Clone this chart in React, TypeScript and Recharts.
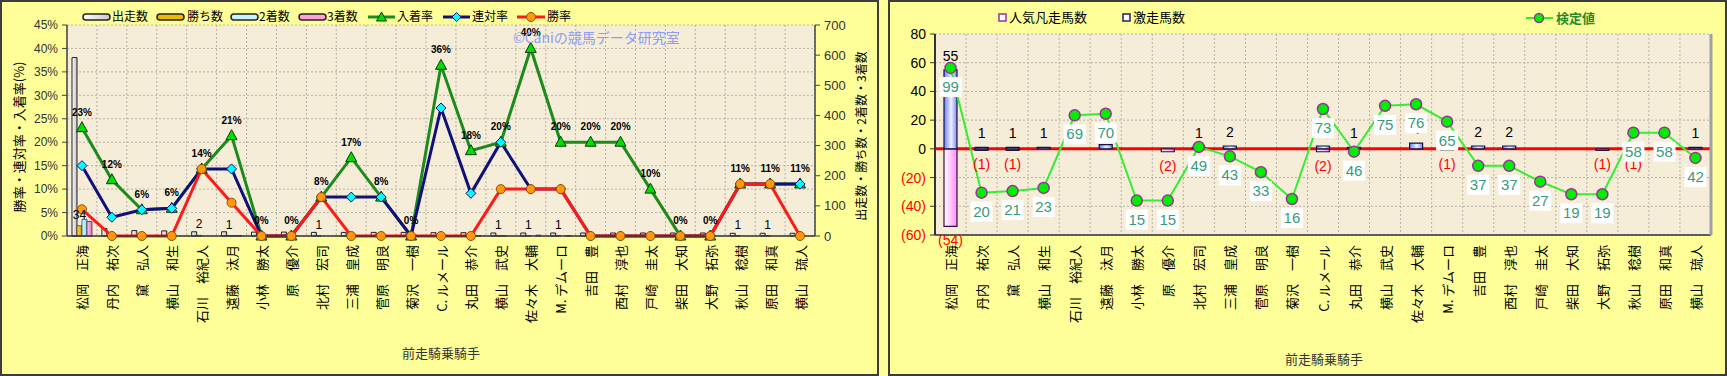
import React from "react";
import {
  ComposedChart, Bar, Line, XAxis, YAxis, CartesianGrid, LabelList, ReferenceLine,
} from "recharts";

const JP = '"Noto Sans CJK JP", "Noto Sans", sans-serif';
const NUM = '"Liberation Sans", Arial, sans-serif';

const jockeys = [
  "松岡　正海", "丹内　祐次", "黛　弘人", "横山　和生", "石川　裕紀人",
  "遠藤　汰月", "小林　勝太", "原　優介", "北村　宏司", "三浦　皇成",
  "菅原　明良", "菊沢　一樹", "C. ルメール", "丸田　恭介", "横山　武史",
  "佐々木　大輔", "M. デムーロ", "吉田　豊", "西村　淳也", "戸崎　圭太",
  "柴田　大知", "大野　拓弥", "秋山　稔樹", "原田　和真", "横山　琉人",
];

// left panel: counts (right axis) and rates in % (left axis)
const starts = [592, 25, 18, 17, 14, 14, 13, 13, 12, 12, 12, 12, 11, 11, 10, 10, 10, 10, 10, 10, 10, 10, 9, 9, 9];
const wins = [34, 0, 0, 0, 2, 1, 0, 0, 1, 0, 0, 0, 0, 0, 1, 1, 1, 0, 0, 0, 0, 0, 1, 1, 0];
const seconds = [55, 1, 1, 1, 0, 1, 0, 0, 0, 1, 1, 0, 3, 1, 1, 0, 0, 0, 0, 0, 0, 0, 0, 0, 1];
const thirds = [48, 2, 0, 0, 0, 1, 0, 0, 0, 1, 0, 0, 1, 1, 0, 3, 1, 2, 2, 1, 0, 0, 0, 0, 0];
const placeRate = [23.1, 12.0, 5.6, 5.9, 14.3, 21.4, 0, 0, 8.3, 16.7, 8.3, 0, 36.4, 18.2, 20, 40, 20, 20, 20, 10, 0, 0, 11.1, 11.1, 11.1];
const quinellaRate = [15.0, 4.0, 5.6, 5.9, 14.3, 14.3, 0, 0, 8.3, 8.3, 8.3, 0, 27.3, 9.1, 20, 10, 10, 0, 0, 0, 0, 0, 11.1, 11.1, 11.1];
const winRate = [5.7, 0, 0, 0, 14.3, 7.1, 0, 0, 8.3, 0, 0, 0, 0, 0, 10, 10, 10, 0, 0, 0, 0, 0, 11.1, 11.1, 0];

const rateTicks = [0, 5, 10, 15, 20, 25, 30, 35, 40, 45];
const countTicks = [0, 100, 200, 300, 400, 500, 600, 700];

// right panel
const upsetCount = [55, 1, 1, 1, 0, 3, 0, 0, 1, 2, 0, 0, 2, 1, 0, 4, 0, 2, 2, 0, 0, 0, 0, 0, 1];
const favLossCount = [-54, -1, -1, 0, 0, 0, 0, -2, 0, 0, 0, 0, -2, 0, 0, 0, -1, 0, 0, 0, 0, -1, -1, 0, 0];
const testValue = [99, 20, 21, 23, 69, 70, 15, 15, 49, 43, 33, 16, 73, 46, 75, 76, 65, 37, 37, 27, 19, 19, 58, 58, 42];
const diffTicks = [-60, -40, -20, 0, 20, 40, 60, 80];

const leftData = jockeys.map((name, i) => ({
  name, starts: starts[i], wins: wins[i], seconds: seconds[i], thirds: thirds[i],
  place: placeRate[i], quinella: quinellaRate[i], win: winRate[i],
}));
const rightData = jockeys.map((name, i) => ({
  name, upset: upsetCount[i], favLoss: favLossCount[i], score: testValue[i],
}));

const boundaries = ({ offset }: any) =>
  Array.from({ length: jockeys.length + 1 }, (_, i) => offset.left + (i * offset.width) / jockeys.length);

const NameTick = (p: any) => {
  const { x, y, payload } = p;
  return (
    <text x={x} y={y} transform={`rotate(-90, ${x}, ${y})`} textAnchor="end" dominantBaseline="central"
      fontSize={13} fontFamily={JP} fill="#000">
      {payload.value}
    </text>
  );
};

const DiffTick = (p: any) => {
  const { x, y, payload } = p;
  const v = payload.value;
  return (
    <text x={x} y={y} textAnchor="end" dominantBaseline="central" fontSize={14} fontFamily={NUM}
      fill={v < 0 ? "#ff0000" : "#000"}>
      {v < 0 ? `(${-v})` : v}
    </text>
  );
};

const Tri = (p: any) => {
  const { cx, cy, index } = p;
  if (cx == null || cy == null) return <g key={index} />;
  return (
    <path key={index} d={`M${cx},${cy - 6} L${cx + 5.5},${cy + 4} L${cx - 5.5},${cy + 4} Z`}
      fill="#00e000" stroke="#0a3a0a" strokeWidth={1} />
  );
};
const Dia = (p: any) => {
  const { cx, cy, index } = p;
  if (cx == null || cy == null) return <g key={index} />;
  return (
    <path key={index} d={`M${cx},${cy - 5} L${cx + 5},${cy} L${cx},${cy + 5} L${cx - 5},${cy} Z`}
      fill="#00ffff" stroke="#10107a" strokeWidth={1} />
  );
};

const PctLabel = (p: any) => (
  <text x={p.x} y={p.y - 12} textAnchor="middle" fontSize={10} fontWeight="bold" fontFamily={NUM} fill="#000">
    {Math.round(p.value)}%
  </text>
);

const WinLabel = (p: any) => {
  const { x, y, width, value } = p;
  if (!value) return null;
  return (
    <text x={x + width / 2} y={y - 7} textAnchor="middle" fontSize={12} fontFamily={NUM} fill="#000">
      {value}
    </text>
  );
};

const UpLabel = (p: any) => {
  const { x, y, width, height, value } = p;
  if (!value || value <= 0) return null;
  const top = Math.min(y, y + height);
  return (
    <text x={x + width / 2} y={top - 9} textAnchor="middle" fontSize={14} fontFamily={NUM} fill="#000">
      {value}
    </text>
  );
};

const DownLabel = (p: any) => {
  const { x, y, width, height, value } = p;
  if (!value || value >= 0) return null;
  const bottom = Math.max(y, y + height);
  return (
    <text x={x + width / 2} y={bottom + 19} textAnchor="middle" fontSize={14} fontFamily={NUM} fill="#ff0000">
      ({-value})
    </text>
  );
};

const ScoreLabel = (p: any) => {
  const { x, y, value } = p;
  return (
    <g>
      <rect x={x - 11} y={y + 9} width={22} height={20} fill="#ffffff" />
      <text x={x} y={y + 24} textAnchor="middle" fontSize={15} fontFamily={NUM} fill="#3a9a7c">
        {value}
      </text>
    </g>
  );
};

const LeftChart = () => (
  <ComposedChart width={880} height={376} data={leftData} margin={{ top: 25, right: 0, bottom: 0, left: 0 }}
    barGap={0} barSize={5}>
    <defs>
      <linearGradient id="gStarts" x1="0" y1="0" x2="1" y2="0">
        <stop offset="0%" stopColor="#ffffff" />
        <stop offset="100%" stopColor="#bdbdbd" />
      </linearGradient>
      <linearGradient id="gWins" x1="0" y1="0" x2="1" y2="0">
        <stop offset="0%" stopColor="#ffe060" />
        <stop offset="100%" stopColor="#d09000" />
      </linearGradient>
      <linearGradient id="gSeconds" x1="0" y1="0" x2="1" y2="0">
        <stop offset="0%" stopColor="#e8fbff" />
        <stop offset="100%" stopColor="#80d8f0" />
      </linearGradient>
      <linearGradient id="gThirds" x1="0" y1="0" x2="1" y2="0">
        <stop offset="0%" stopColor="#ffd0ec" />
        <stop offset="100%" stopColor="#e070b0" />
      </linearGradient>
    </defs>
    <CartesianGrid yAxisId="rate" fill="#f6edd8" fillOpacity={1} stroke="#b8b2a6" strokeDasharray="2 2"
      verticalCoordinatesGenerator={boundaries} />
    <XAxis dataKey="name" interval={0} tick={<NameTick />} tickSize={0} tickMargin={9} height={140}
      axisLine={{ stroke: "#333", strokeWidth: 1.5 }} />
    <YAxis yAxisId="rate" domain={[0, 45]} ticks={rateTicks} tickFormatter={(v: number) => `${v}%`} width={67}
      tickSize={5} tickMargin={4} tick={{ fontSize: 12, fill: "#333", fontFamily: NUM }}
      axisLine={{ stroke: "#444", strokeWidth: 1.5 }} tickLine={{ stroke: "#444" }} />
    <YAxis yAxisId="count" orientation="right" domain={[0, 700]} ticks={countTicks} width={65}
      tickSize={5} tickMargin={4} tick={{ fontSize: 13, fill: "#333", fontFamily: NUM }}
      axisLine={{ stroke: "#444", strokeWidth: 1.5 }} tickLine={{ stroke: "#444" }} />
    <Bar yAxisId="count" dataKey="starts" fill="url(#gStarts)" stroke="#222" strokeWidth={1} isAnimationActive={false} />
    <Bar yAxisId="count" dataKey="wins" fill="url(#gWins)" stroke="#5a4000" strokeWidth={0.8} isAnimationActive={false}>
      <LabelList dataKey="wins" content={WinLabel} />
    </Bar>
    <Bar yAxisId="count" dataKey="seconds" fill="url(#gSeconds)" stroke="#205060" strokeWidth={0.8} isAnimationActive={false} />
    <Bar yAxisId="count" dataKey="thirds" fill="url(#gThirds)" stroke="#602050" strokeWidth={0.8} isAnimationActive={false} />
    <Line yAxisId="rate" dataKey="place" stroke="#1c8a1c" strokeWidth={3} dot={Tri} activeDot={false}
      isAnimationActive={false}>
      <LabelList dataKey="place" content={PctLabel} />
    </Line>
    <Line yAxisId="rate" dataKey="quinella" stroke="#10107a" strokeWidth={3} dot={Dia} activeDot={false}
      isAnimationActive={false} />
    <Line yAxisId="rate" dataKey="win" stroke="#ff1a1a" strokeWidth={3}
      dot={{ r: 4.5, fill: "#ff9a10", stroke: "#9a4a00", strokeWidth: 1 }} activeDot={false}
      isAnimationActive={false} />
  </ComposedChart>
);

const RightChart = () => (
  <ComposedChart width={837} height={376} data={rightData} margin={{ top: 34, right: 0, bottom: 0, left: 0 }}
    stackOffset="sign" barSize={13}>
    <defs>
      <linearGradient id="gUp" x1="0" y1="0" x2="1" y2="0">
        <stop offset="0%" stopColor="#6f82ff" />
        <stop offset="55%" stopColor="#eef0ff" />
        <stop offset="100%" stopColor="#7d8cf0" />
      </linearGradient>
      <linearGradient id="gDown" x1="0" y1="0" x2="1" y2="0">
        <stop offset="0%" stopColor="#ffffff" />
        <stop offset="100%" stopColor="#ff8cff" />
      </linearGradient>
    </defs>
    <CartesianGrid yAxisId="diff" fill="#f6edd8" fillOpacity={1} stroke="#b8b2a6" strokeDasharray="2 2"
      verticalCoordinatesGenerator={boundaries} />
    <XAxis dataKey="name" interval={0} tick={<NameTick />} tickSize={0} tickMargin={10} height={141}
      axisLine={{ stroke: "#333", strokeWidth: 1.5 }} />
    <YAxis yAxisId="diff" domain={[-60, 80]} ticks={diffTicks} width={45} tickSize={5} tickMargin={4}
      tick={<DiffTick />} axisLine={{ stroke: "#333", strokeWidth: 2 }} tickLine={{ stroke: "#333" }} />
    <YAxis yAxisId="score" orientation="right" domain={[-6.8, 120.5]} width={16} tick={false} tickLine={false}
      axisLine={{ stroke: "#a0a0a0", strokeWidth: 3 }} />
    <ReferenceLine yAxisId="diff" y={0} stroke="#ff0000" strokeWidth={3} zIndex={250} />
    <Bar yAxisId="diff" dataKey="favLoss" stackId="s" fill="url(#gDown)" stroke="#301030" strokeWidth={1.2}
      isAnimationActive={false}>
      <LabelList dataKey="favLoss" content={DownLabel} />
    </Bar>
    <Bar yAxisId="diff" dataKey="upset" stackId="s" fill="url(#gUp)" stroke="#141440" strokeWidth={1.2}
      isAnimationActive={false}>
      <LabelList dataKey="upset" content={UpLabel} />
    </Bar>
    <Line yAxisId="score" dataKey="score" stroke="#33ee33" strokeWidth={2}
      dot={{ r: 5.5, fill: "#00ee00", stroke: "#993399", strokeWidth: 1.5 }} activeDot={false}
      isAnimationActive={false}>
      <LabelList dataKey="score" content={ScoreLabel} />
    </Line>
  </ComposedChart>
);

const Swatch = ({ x, fill, stroke }: { x: number; fill: string; stroke: string }) => (
  <rect x={x} y={14} width={27} height={6} rx={3} fill={fill} stroke={stroke} strokeWidth={1.5} />
);

const Overlay = () => (
  <svg width={1727} height={376} style={{ position: "absolute", left: 0, top: 0, pointerEvents: "none" }}>
    <defs>
      <linearGradient id="lgW" x1="0" y1="0" x2="1" y2="0">
        <stop offset="0%" stopColor="#ffffff" /><stop offset="100%" stopColor="#c8c8c8" />
      </linearGradient>
    </defs>
    {/* left legend */}
    <g fontFamily={JP} fontSize={12} fill="#000">
      <Swatch x={83} fill="url(#lgW)" stroke="#222" />
      <text x={112} y={21}>出走数</text>
      <Swatch x={157} fill="#f0b800" stroke="#222" />
      <text x={187} y={21}>勝ち数</text>
      <Swatch x={231} fill="#c8f4ff" stroke="#222" />
      <text x={259} y={21}>2着数</text>
      <Swatch x={299} fill="#ff9fd8" stroke="#222" />
      <text x={327} y={21}>3着数</text>
      <line x1={368} y1={17} x2={395} y2={17} stroke="#1c8a1c" strokeWidth={3} />
      <path d="M381.5,12 L386.5,21 L376.5,21 Z" fill="#00e000" stroke="#0a3a0a" />
      <text x={397} y={21}>入着率</text>
      <line x1={443} y1={17} x2={470} y2={17} stroke="#10107a" strokeWidth={3} />
      <path d="M456.5,12.5 L461,17 L456.5,21.5 L452,17 Z" fill="#00ffff" stroke="#10107a" />
      <text x={472} y={21}>連対率</text>
      <line x1={517} y1={17} x2={545} y2={17} stroke="#ff1a1a" strokeWidth={3} />
      <circle cx={531} cy={17} r={4.5} fill="#ff9a10" stroke="#9a4a00" />
      <text x={547} y={21}>勝率</text>
    </g>
    <text x={513} y={43} fontFamily={JP} fontSize={14} fill="#8c9cf6">©Caniの競馬データ研究室</text>
    {/* left axis titles */}
    <text x={18} y={137} transform="rotate(-90, 18, 137)" textAnchor="middle" dominantBaseline="central"
      fontFamily={JP} fontSize={13} fill="#000">勝率・連対率・入着率(%)</text>
    <text x={860} y={136} transform="rotate(-90, 860, 136)" textAnchor="middle" dominantBaseline="central"
      fontFamily={JP} fontSize={12} fill="#000">出走数・勝ち数・2着数・3着数</text>
    <text x={441} y={358} textAnchor="middle" fontFamily={JP} fontSize={13} fill="#333">前走騎乗騎手</text>
    {/* right legend */}
    <g fontFamily={JP} fontSize={13} fill="#000">
      <rect x={999} y={14} width={7} height={7} fill="#fff" stroke="#993399" strokeWidth={1.5} />
      <text x={1009} y={22}>人気凡走馬数</text>
      <rect x={1123} y={14} width={7} height={7} fill="#fff" stroke="#202060" strokeWidth={1.5} />
      <text x={1133} y={22}>激走馬数</text>
      <line x1={1526} y1={18} x2={1553} y2={18} stroke="#33ee33" strokeWidth={2} />
      <circle cx={1539} cy={18} r={4.5} fill="#00ee00" stroke="#993399" strokeWidth={1.5} />
      <text x={1556} y={23} fill="#2a8a2a" fontWeight="bold">検定値</text>
    </g>
    <text x={1324} y={364} textAnchor="middle" fontFamily={JP} fontSize={13} fill="#333">前走騎乗騎手</text>
  </svg>
);

export default function App() {
  return (
    <div style={{ position: "absolute", left: 0, top: 0, width: 1727, height: 376, background: "#ffff99", overflow: "hidden" }}>
      <div style={{ position: "absolute", left: 0, top: 0, width: 879, height: 376, boxSizing: "border-box", border: "2px solid #3c3c3c" }} />
      <div style={{ position: "absolute", left: 888, top: 0, width: 839, height: 376, boxSizing: "border-box", border: "2px solid #3c3c3c" }} />
      <div style={{ position: "absolute", left: 0, top: 0 }}>
        <LeftChart />
      </div>
      <div style={{ position: "absolute", left: 890, top: 0 }}>
        <RightChart />
      </div>
      <Overlay />
    </div>
  );
}
